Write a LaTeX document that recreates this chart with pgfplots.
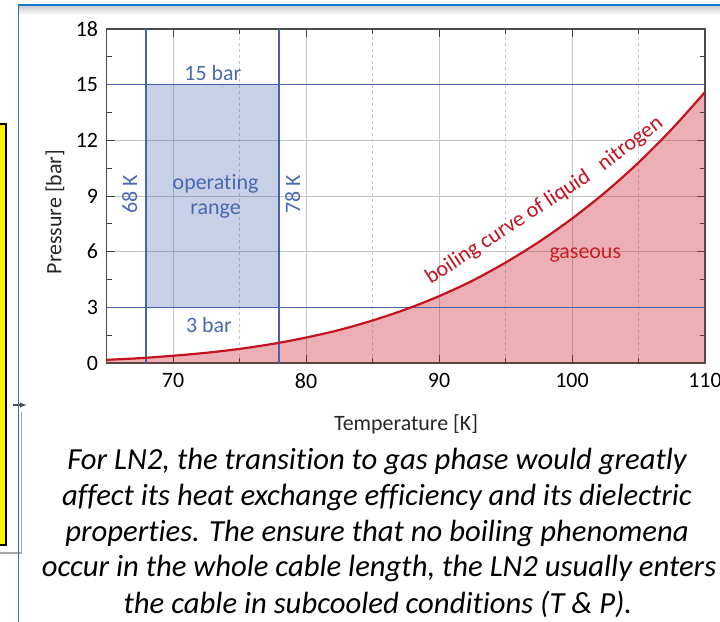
\documentclass[border=0pt]{standalone}
\usepackage{fontspec}
\setmainfont{Carlito}[Ligatures=NoCommon]
\usepackage{pgfplots}
\usepackage{pgfplotstable}
\pgfplotsset{compat=1.18}
\usetikzlibrary{arrows.meta}

\definecolor{lineblue}{RGB}{70,100,172}
\definecolor{textblue}{RGB}{72,104,178}
\definecolor{curvered}{RGB}{196,18,30}
\definecolor{gasred}{RGB}{200,30,40}
\definecolor{gridgray}{RGB}{196,196,196}
\definecolor{framebl}{RGB}{20,120,205}

% boiling curve of LN2, pressure in bar
\pgfplotstableread{
T P
65 0.17
67.5 0.26
70 0.39
72.5 0.55
75 0.76
77.5 1.03
80 1.37
82.5 1.78
85 2.29
87.5 2.89
90 3.60
92.5 4.43
95 5.41
97.5 6.52
100 7.78
102.5 9.20
105 10.80
107.5 12.60
110 14.60
}\boiling

\begin{document}
\fontsize{22}{26}\selectfont
\begin{tikzpicture}
\path[use as bounding box] (0,0) rectangle (720bp,622bp);

% bits of the slide around the figure
\shade[top color=black!20, bottom color=white] (18bp,607bp) rectangle (720bp,616bp);
\fill[yellow] (0,77bp) rectangle (6bp,498bp);
\draw[black, line width=1.2bp] (-2bp,77bp) -- (6bp,77bp) -- (6bp,498bp) -- (-2bp,498bp);
\draw[black!35, line width=1.4bp] (0,69bp) -- (21.5bp,69bp) -- (21.5bp,210bp);
\draw[black!70, line width=1.2bp, -{Latex[length=7bp]}] (13bp,217bp) -- (27bp,217bp);
\draw[framebl, line width=1.5bp] (18.3bp,0) -- (18.3bp,617bp) -- (720bp,617bp);

\begin{axis}[
  at={(106.5bp,259bp)}, anchor=south west,
  scale only axis, width=598.5bp, height=334bp,
  xmin=65, xmax=110, ymin=0, ymax=18,
  xtick={70,80,90,100,110}, minor xtick={75,85,95,105},
  ytick={0,3,...,18}, minor ytick={1.5,4.5,...,16.5},
  xmajorgrids, xminorgrids, ymajorgrids,
  major x grid style={gridgray, line width=0.9bp},
  minor x grid style={gridgray, dashed, line width=0.6bp},
  major y grid style={gridgray, line width=0.9bp},
  tick align=inside,
  major tick length=8bp, minor tick length=5bp,
  tick style={black!75, line width=0.9bp},
  axis line style={black!70, line width=1.2bp},
  /pgf/number format/assume math mode=true,
  xticklabel style={yshift=-3bp},
  yticklabel style={xshift=-1bp},
]
% gaseous region under the curve
\addplot[draw=none, fill=gasred, fill opacity=0.35, smooth] table {\boiling} \closedcycle;
% operating range
\addplot[draw=none, fill=lineblue, fill opacity=0.30] coordinates {(68,3) (78,3) (78,15) (68,15) (68,3)};
\addplot[lineblue, line width=1.5bp] coordinates {(65,15) (110,15)};
\addplot[lineblue, line width=1.5bp] coordinates {(65,3) (110,3)};
\addplot[lineblue, line width=2bp] coordinates {(68,0) (68,18)};
\addplot[lineblue, line width=2bp] coordinates {(78,0) (78,18)};
% boiling curve
\addplot[curvered, line width=2.2bp, smooth] table {\boiling};

\node[curvered, rotate=33] at (axis cs:95.2,7.3) {boiling curve of liquid};
\node[curvered, rotate=37] at (axis cs:104.4,11.8) {nitrogen};
\node[textblue] at (axis cs:73,15.65) {15 bar};
\node[textblue] at (axis cs:72.7,2.05) {3 bar};
\node[textblue, rotate=90] at (axis cs:66.75,9.1) {68 K};
\node[textblue, rotate=90] at (axis cs:79.0,9.1) {78 K};
\node[textblue, align=center] at (axis cs:73.2,9.0) {operating\\[-1bp]range};
\node[gasred] at (axis cs:101,5.8) {gaseous};
\end{axis}

\node[black!85] at (406bp,198bp) {Temperature [K]};
\node[black!85, rotate=90] at (55bp,410bp) {Pressure [bar]};

\begin{scope}[every node/.style={anchor=base, font=\itshape\fontsize{30.8}{34}\selectfont}]
\node at (377bp,152bp) {For LN2, the transition to gas phase would greatly};
\node at (377bp,116bp) {affect its heat exchange efficiency and its dielectric};
\node at (377bp,80bp) {properties. The ensure that no boiling phenomena};
\node at (379bp,45bp) {occur in the whole cable length, the LN2 usually enters};
\node at (378bp,9bp) {the cable in subcooled conditions (T \& P).};
\end{scope}
\end{tikzpicture}
\end{document}
